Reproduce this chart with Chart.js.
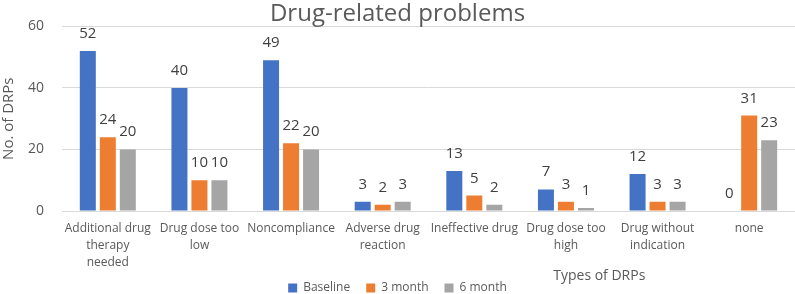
<!DOCTYPE html>
<html lang="en">
<head>
    <meta charset="UTF-8">
    <title>Drug-related problems</title>
    <script src="https://cdn.jsdelivr.net/npm/chart.js@4.4.0/dist/chart.umd.min.js"></script>
    <style>
        html, body { margin: 0; padding: 0; background: #fff; }
        #wrap { width: 795px; height: 294px; }
    </style>
</head>
<body>
<div id="wrap"><canvas id="myChart"></canvas></div>
<script>
    var categories = [
        ["Additional drug", "therapy", "needed"],
        ["Drug dose too", "low"],
        "Noncompliance",
        ["Adverse drug", "reaction"],
        "Ineffective drug",
        ["Drug dose too", "high"],
        ["Drug without", "indication"],
        "none"
    ];
    var baseline = [52, 40, 49, 3, 13, 7, 12, 0];
    var month3 = [24, 10, 22, 2, 5, 3, 3, 31];
    var month6 = [20, 10, 20, 3, 2, 1, 3, 23];
    var yTicks = [0, 20, 40, 60];

    var textColor = "#595959";
    var fontFamily = "'Open Sans', sans-serif";

    // value labels over every bar
    var valueLabels = {
        id: "valueLabels",
        afterDatasetsDraw: function(chart) {
            var ctx = chart.ctx;
            ctx.save();
            ctx.font = "15px " + fontFamily;
            ctx.fillStyle = "#404040";
            ctx.textAlign = "center";
            ctx.textBaseline = "alphabetic";
            chart.data.datasets.forEach(function(ds, i) {
                chart.getDatasetMeta(i).data.forEach(function(bar, j) {
                    ctx.fillText(String(ds.data[j]), bar.x, bar.y - 13);
                });
            });
            ctx.restore();
        }
    };

    // x axis title sits right of centre, as in the original
    var xTitle = {
        id: "xTitle",
        afterDraw: function(chart) {
            var ctx = chart.ctx;
            var a = chart.chartArea;
            ctx.save();
            ctx.font = "14px " + fontFamily;
            ctx.fillStyle = textColor;
            ctx.textAlign = "center";
            ctx.textBaseline = "middle";
            ctx.fillText("Types of DRPs", a.left + (a.right - a.left) * 0.733, 276);
            ctx.restore();
        }
    };

    var ctx = document.getElementById("myChart");
    var myChart = new Chart(ctx, {
        type: "bar",
        data: {
            labels: categories,
            datasets: [
                { label: "Baseline", data: baseline, backgroundColor: "#4472C4" },
                { label: "3 month", data: month3, backgroundColor: "#ED7D31" },
                { label: "6 month", data: month6, backgroundColor: "#A5A5A5" }
            ]
        },
        options: {
            responsive: true,
            maintainAspectRatio: false,
            animation: false,
            datasets: {
                bar: { categoryPercentage: 0.655, barPercentage: 0.8 }
            },
            layout: { padding: { top: 1, right: 0, bottom: -10, left: 0 } },
            plugins: {
                title: {
                    display: true,
                    text: "Drug-related problems",
                    color: textColor,
                    font: { family: fontFamily, size: 24, weight: "normal", lineHeight: 1.0 },
                    padding: { top: 0, bottom: 0 }
                },
                legend: {
                    position: "bottom",
                    labels: {
                        color: textColor,
                        boxWidth: 9,
                        boxHeight: 9,
                        padding: 16,
                        font: { family: fontFamily, size: 12 }
                    }
                },
                tooltip: { enabled: false }
            },
            scales: {
                x: {
                    grid: { display: false, drawTicks: false },
                    border: { display: false },
                    ticks: {
                        color: textColor,
                        padding: 9,
                        maxRotation: 0,
                        autoSkip: false,
                        font: { family: fontFamily, size: 12, lineHeight: 1.42 }
                    },
                    afterFit: function(scale) { scale.height = 55; }
                },
                y: {
                    min: 0,
                    max: 60,
                    afterBuildTicks: function(scale) {
                        scale.ticks = yTicks.map(function(v) { return { value: v }; });
                    },
                    grid: { color: "#D9D9D9", lineWidth: 1, drawTicks: false },
                    border: { display: false },
                    ticks: {
                        color: textColor,
                        padding: 18,
                        font: { family: fontFamily, size: 14 }
                    },
                    title: {
                        display: true,
                        text: "No. of DRPs",
                        color: textColor,
                        padding: { top: 0, bottom: 0 },
                        font: { family: fontFamily, size: 15 }
                    },
                    afterFit: function(scale) { scale.width = 62; }
                }
            }
        },
        plugins: [valueLabels, xTitle]
    });
</script>
</body>
</html>
